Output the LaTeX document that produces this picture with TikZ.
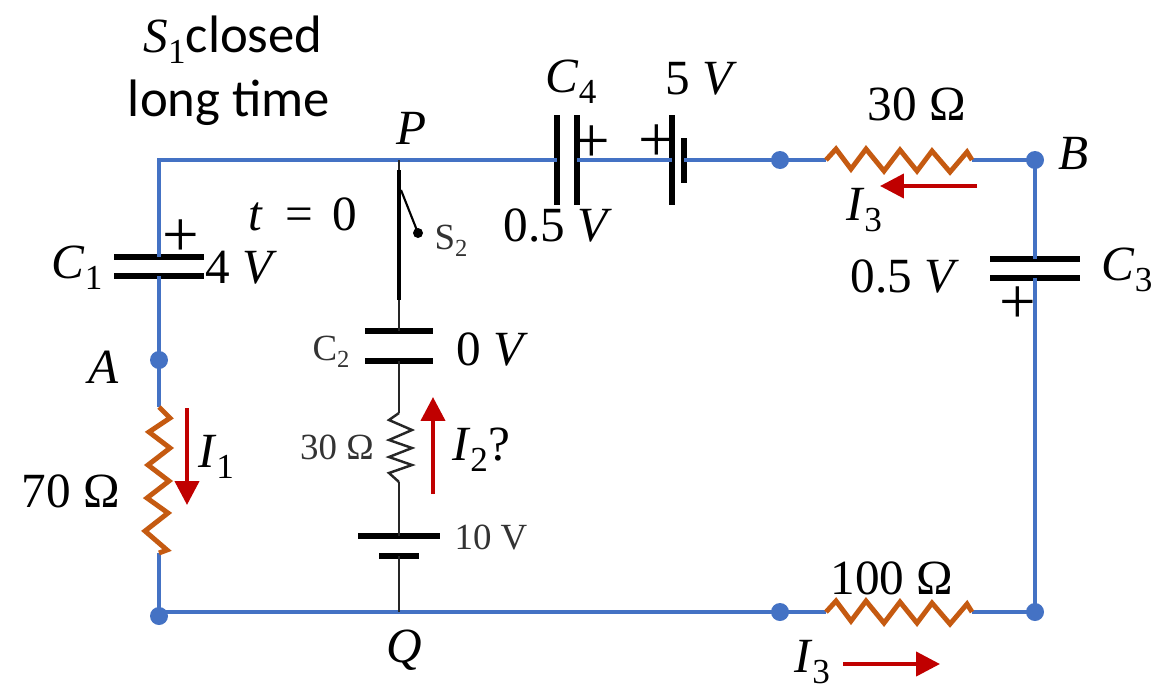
\documentclass[tikz,border=0pt]{standalone}
\usepackage{fontspec}
\setmainfont{Liberation Serif}
\newfontfamily\labelfont{Carlito}
\usetikzlibrary{arrows.meta}
\definecolor{wireblue}{HTML}{4472C4}
\definecolor{resbrown}{HTML}{C55A11}
\definecolor{curred}{HTML}{C00000}
\tikzstyle{wire} = [draw=wireblue, line width=2.8pt]
\tikzstyle{thinwire} = [draw=black!85, line width=1.4pt]
\tikzstyle{resistor} = [draw=resbrown, line width=2.8pt]
\tikzstyle{current} = [draw=curred, fill=curred, line width=2.4pt, -{Triangle[width=13.6pt,length=13.6pt]}]
\tikzstyle{dot} = [circle, fill=wireblue, inner sep=0, minimum size=0.36cm]
\tikzstyle{hplate} = [rectangle, fill=black, inner sep=0, minimum height=0.11cm]
\tikzstyle{vplate} = [rectangle, fill=black, inner sep=0, minimum width=0.11cm]
\tikzstyle{big} = [inner sep=0, font=\fontsize{28}{32}\selectfont]
\tikzstyle{small} = [inner sep=0, text=black!80, font=\fontsize{21}{24}\selectfont]
\tikzstyle{plussign} = [inner sep=0, font=\fontsize{37}{37}\selectfont]
\newcommand{\subvar}[2]{\textit{#1}\raisebox{-0.22em}{\fontsize{20}{20}\selectfont #2}}
\newcommand{\hresistor}[2]{\path [resistor] (#1) -- ++(10,-11) -- ++(15,20) -- ++(15,-20) -- ++(18,22) -- ++(16,-21) -- ++(17,21) -- ++(15,-20) -- ++(18,21) -- ++(17,-20) -- (#2);}
\begin{document}
\begin{tikzpicture}[x=0.02cm, y=-0.02cm]
\useasboundingbox (0, 0) rectangle (1175, 697);
%% outer loop
\node [dot] at (780, 160) (topdot) {};
\node [dot] at (1035, 160) (B) {};
\node [dot] at (159, 360) (A) {};
\node [dot] at (159, 616) (Qleft) {};
\node [dot] at (780, 612) (botdot) {};
\node [dot] at (1035, 612) (botright) {};
\coordinate (corner) at (159, 160);
\coordinate (Ptop) at (399, 160);
\coordinate (Qjoin) at (399, 612);

\node [hplate, minimum width=1.8cm] at (159, 257) (C1top) {};
\node [hplate, minimum width=1.8cm] at (159, 276) (C1bot) {};
\node [vplate, minimum height=1.8cm] at (557, 160) (C4left) {};
\node [vplate, minimum height=1.8cm] at (577, 160) (C4right) {};
\node [vplate, minimum height=1.8cm] at (672, 160) (Batleft) {};
\node [vplate, minimum height=0.9cm] at (684, 160) (Batright) {};
\node [hplate, minimum width=1.8cm] at (1035, 259) (C3top) {};
\node [hplate, minimum width=1.8cm] at (1035, 278) (C3bot) {};

\coordinate (R1a) at (159, 407);
\coordinate (R1b) at (159, 553);
\coordinate (R3a) at (826, 160);
\coordinate (R3b) at (972, 160);
\coordinate (R4a) at (826, 612);
\coordinate (R4b) at (972, 612);

\path [wire] (C1top.center) -- (corner) -- (C4left.center);
\path [wire] (C4right.center) -- (Batleft.center);
\path [wire] (Batright.center) -- (R3a);
\path [wire] (R3b) -- (B.center) -- (C3top.center);
\path [wire] (C3bot.center) -- (botright.center);
\path [wire] (Qleft.center |- R4a) -- (R4a);
\path [wire] (R4b) -- (botright.center);
\path [wire] (C1bot.center) -- (R1a);
\path [wire] (R1b) -- (Qleft.center);

\hresistor{R3a}{R3b}
\hresistor{R4a}{R4b}
\path [resistor] (R1a) -- (170, 418) -- (149, 432) -- (170, 448) -- (148, 465) -- (169, 481) -- (147, 498) -- (168, 513) -- (145, 531) -- (167, 550) -- (R1b);

%% middle branch
\node [hplate, minimum width=1.36cm] at (399, 331) (C2top) {};
\node [hplate, minimum width=1.36cm] at (399, 361) (C2bot) {};
\node [hplate, minimum width=1.64cm] at (399, 536) (Cell) {};
\node [hplate, minimum width=0.8cm] at (399, 556) (Cellb) {};
\coordinate (R2a) at (399, 413);
\coordinate (R2b) at (399, 482);
\coordinate (Sw) at (399, 300);
\coordinate (Swtop) at (399, 170);
\coordinate (Swpivot) at (401, 190);
\node [circle, fill=black, inner sep=0, minimum size=0.2cm] at (418, 233) (Swend) {};

\path [thinwire] (Ptop) -- (C2top.center);
\path [draw=black, line width=2.6pt] (Swtop) -- (Sw);
\path [draw=black, line width=1.2pt] (Swpivot) -- (Swend.center);
\path [thinwire] (C2bot.center) -- (R2a);
\path [thinwire] (R2a) -- (389, 420) -- (412, 430) -- (389, 440) -- (412, 448) -- (389, 457) -- (412, 465) -- (389, 473) -- (R2b);
\path [thinwire] (R2b) -- (Cell.center);
\path [thinwire] (Cellb.center) -- (Qjoin);

%% plus signs
\node [plussign] at (181, 238) (plusC1) {+};
\node [plussign] at (592, 144) (plusC4) {+};
\node [plussign] at (657, 143) (plusBat) {+};
\node [plussign] at (1018, 305) (plusC3) {+};

%% currents
\coordinate (I1a) at (187, 408);
\coordinate (I1b) at (187, 505);
\coordinate (I2a) at (433, 494);
\coordinate (I2b) at (433, 397);
\coordinate (I3a) at (977, 186);
\coordinate (I3b) at (880, 186);
\coordinate (I4a) at (843, 664);
\coordinate (I4b) at (940, 664);
\path [current] (I1a) -- (I1b);
\path [current] (I2a) -- (I2b);
\path [current] (I3a) -- (I3b);
\path [current] (I4a) -- (I4b);

%% labels
\node [big] at (233, 40) (closedlabel) {\subvar{S}{1}{\labelfont\fontsize{30}{32}\selectfont closed}};
\node [big] at (229, 103) (timelabel) {\labelfont\fontsize{30}{32}\selectfont long time};
\node [big] at (303, 214) (tlabel) {\textit{t}\hspace{0.2em} = \hspace{0.15em}0};
\node [big] at (412, 128) (Plabel) {\textit{P}};
\node [big] at (404, 650) (Qlabel) {\textit{Q}};
\node [big] at (104, 367) (Alabel) {\textit{A}};
\node [big] at (1074, 153) (Blabel) {\textit{B}};
\node [big] at (77, 268) (C1label) {\subvar{C}{1}};
\node [big] at (241, 268) (C1volt) {4 \textit{V}};
\node [big] at (571, 82) (C4label) {\subvar{C}{4}};
\node [big] at (558, 226) (C4volt) {0.5 \textit{V}};
\node [big] at (701, 79) (Batvolt) {5 \textit{V}};
\node [big] at (917, 104) (R3label) {30 Ω};
\node [big] at (905, 277) (C3volt) {0.5 \textit{V}};
\node [big] at (1127, 270) (C3label) {\subvar{C}{3}};
\node [big] at (492, 350) (C2volt) {0 \textit{V}};
\node [big] at (71, 491) (R1label) {70 Ω};
\node [big] at (892, 578) (R4label) {100 Ω};
\node [big] at (216, 457) (I1label) {\subvar{I}{1}};
\node [big] at (481, 450) (I2label) {\subvar{I}{2}?};
\node [big] at (864, 210) (I3label) {\subvar{I}{3}};
\node [big] at (812, 662) (I4label) {\subvar{I}{3}};
\node [small] at (451, 241) (S2label) {S\raisebox{-0.2em}{\fontsize{14}{14}\selectfont 2}};
\node [small] at (331, 352) (C2label) {C\raisebox{-0.2em}{\fontsize{14}{14}\selectfont 2}};
\node [small] at (337, 447) (R2label) {30 Ω};
\node [small] at (491, 537) (Celllabel) {10 V};
\end{tikzpicture}
\end{document}
